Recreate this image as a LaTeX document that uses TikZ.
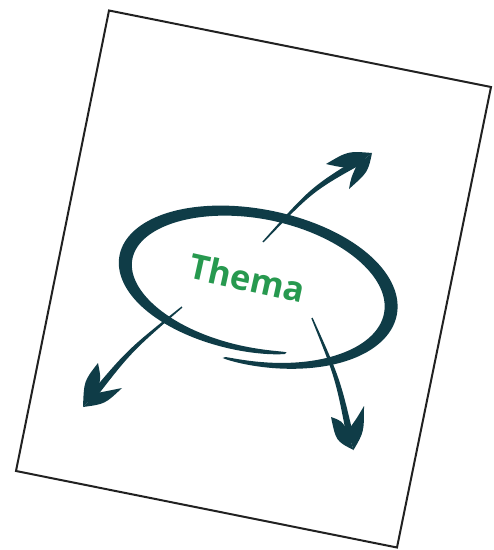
\documentclass[tikz,border=0pt]{standalone}
\usepackage{fontspec}
\setmainfont{Open Sans}
\usetikzlibrary{calc}
\definecolor{ink}{HTML}{0F3C47}
\definecolor{leaf}{HTML}{27994F}
\begin{document}
\begin{tikzpicture}[x=1pt,y=-1pt,
  declare function={
    tt(\u)=97-388*\u;
    aa(\u)=135+7*(1-2*\u);
    bb(\u)=71+7*(1-2*\u);
    ww(\u)=14.5*(sin(180*\u))^0.35*(0.66+0.34*cos(tt(\u))^2);
    ex(\u,\k)=255+(aa(\u)+\k*ww(\u)/2)*cos(tt(\u))*0.9781-(bb(\u)+\k*ww(\u)/2)*sin(tt(\u))*0.2079;
    ey(\u,\k)=285+(aa(\u)+\k*ww(\u)/2)*cos(tt(\u))*0.2079+(bb(\u)+\k*ww(\u)/2)*sin(tt(\u))*0.9781;
  },
  pagestyle/.style={draw=black!87,line width=2pt,fill=white,line join=miter},
  inkfill/.style={fill=ink,draw=none},
  label/.style={text=leaf,font=\bfseries\fontsize{34.5}{34.5}\selectfont,inner sep=0pt}
]
\useasboundingbox (0,0) rectangle (494,550);

% tilted sheet
\coordinate (p1) at (109,10.5);
\coordinate (p2) at (491,87);
\coordinate (p3) at (397,547.5);
\coordinate (p4) at (16,471);
\draw[pagestyle] (p1) -- (p2) -- (p3) -- (p4) -- cycle;

% brush-stroke loop: outer edge forward, inner edge back
\fill[inkfill]
  plot[domain=0.001:0.999,samples=240,variable=\u] ({ex(\u,1)},{ey(\u,1)})
  -- plot[domain=0.999:0.001,samples=240,variable=\u] ({ex(\u,-1)},{ey(\u,-1)})
  -- cycle;

% centre label
\node[label,rotate=-12.5] (thema) at (247.5,278) {Thema};

% tapered shaft from S via K to T
\newcommand{\brushshaft}[3]{%
  \fill[inkfill] ($(#1)!0.7pt!-90:(#2)$) .. controls ($(#2)!2.2pt!-90:(#3)$) ..
    ($(#3)!3.6pt!90:(#2)$) -- ($(#3)!3.6pt!-90:(#2)$) .. controls ($(#2)!2.2pt!90:(#3)$) ..
    ($(#1)!0.7pt!90:(#2)$) -- cycle;}

% arrow to the upper right
\coordinate (aS) at (263,242);
\coordinate (aK) at (312,189);
\coordinate (aT) at (365,158);
\coordinate (aP) at (372,153);
\coordinate (aJ) at (356.5,165.7);
\coordinate (aB1) at (326,164);
\coordinate (aB2) at (349,189);
\brushshaft{aS}{aK}{aT}
\fill[inkfill] (aP) .. controls (348,151) .. (aB1) .. controls (344,168) .. (aJ) -- cycle;
\fill[inkfill] (aP) .. controls (368,172) .. (aB2) .. controls (351,178) .. (aJ) -- cycle;

% arrow to the lower left
\coordinate (bS) at (182,307);
\coordinate (bK) at (129,351);
\coordinate (bT) at (88,402);
\coordinate (bP) at (83,407);
\coordinate (bJ) at (97,393);
\coordinate (bB1) at (98,363);
\coordinate (bB2) at (122,388);
\brushshaft{bS}{bK}{bT}
\fill[inkfill] (bP) .. controls (84,381) .. (bB1) .. controls (101,378) .. (bJ) -- cycle;
\fill[inkfill] (bP) .. controls (105,404) .. (bB2) .. controls (110,391) .. (bJ) -- cycle;

% arrow pointing down
\coordinate (cS) at (312,318);
\coordinate (cK) at (338,379);
\coordinate (cT) at (351.5,443);
\coordinate (cP) at (353.5,450);
\coordinate (cJ) at (347.6,431);
\coordinate (cB1) at (331,417);
\coordinate (cB2) at (364,406);
\brushshaft{cS}{cK}{cT}
\fill[inkfill] (cP) .. controls (336,441) .. (cB1) .. controls (342,421) .. (cJ) -- cycle;
\fill[inkfill] (cP) .. controls (364,432) .. (cB2) .. controls (357,418) .. (cJ) -- cycle;
\end{tikzpicture}
\end{document}
